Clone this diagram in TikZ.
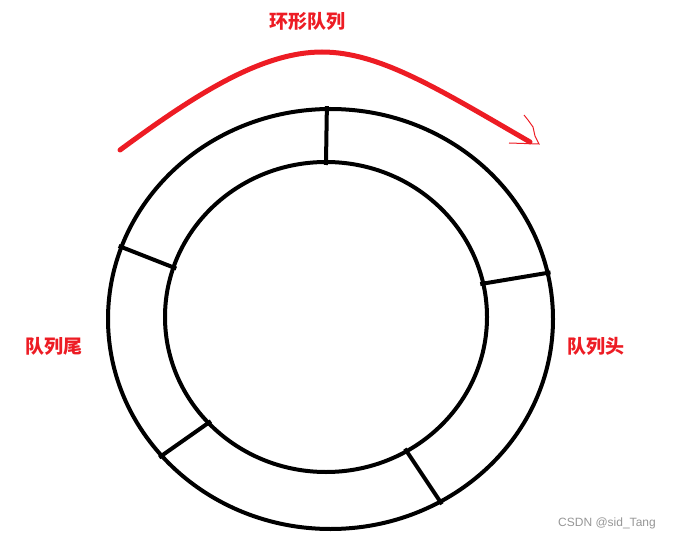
\documentclass[tikz,border=0pt]{standalone}
\usepackage{fontspec}
\newfontfamily\cjk{Noto Sans CJK SC}
\setsansfont{Liberation Sans}
\usetikzlibrary{
  calc,
  positioning,
  shapes.geometric,
}
\definecolor{paintred}{RGB}{237, 28, 36}
\definecolor{markgray}{RGB}{150, 150, 150}
\tikzstyle{ring} = [
  draw,
  ellipse,
  line width=4pt,
  inner sep=0pt,
  outer sep=0pt,
]
\tikzstyle{divider} = [
  line width=4pt,
  shorten >=-3pt,
  shorten <=-3pt,
]
\tikzstyle{redtext} = [
  text=paintred,
  font=\cjk\bfseries\fontsize{19}{19}\selectfont,
]
\tikzstyle{redarc} = [
  paintred,
  line width=5pt,
  line cap=round,
]

\begin{document}
\begin{tikzpicture}[x=1pt,y=-1pt]

        \useasboundingbox (0,0) rectangle (677,540);

        \node[ring,minimum width=445,minimum height=420] (outer) at (330.5,319) {};
        \node[ring,minimum width=322,minimum height=310] (inner) at (326,317) {};

        \node[redtext] (title) at (307,21) {环形队列};
        \node[redtext] (tail) at (54,346) {队列尾};
        \node[redtext] (head) at (596,346) {队列头};
        \node[text=markgray,font=\sffamily\fontsize{12}{12}\selectfont] (mark) at (607,523) {CSDN @sid\_Tang};

        \coordinate (arcstart) at (120,150);
        \coordinate (arctop) at (322,52);
        \coordinate (arcend) at (530,142);

        \draw[divider] (inner.90) -- (outer.91);
        \draw[divider] (inner.162) -- (outer.161);
        \draw[divider] (inner.222) -- (outer.219.5);
        \draw[divider] (inner.301.5) -- (outer.301);
        \draw[divider] (inner.12.7) -- (outer.12);

        \draw[redarc] (arcstart) .. controls (192,97) and (260,52) .. (arctop)
                      .. controls (380,52) and (440,90) .. (arcend);
        \draw[paintred,line width=1pt] ($(arcend)+(-6,-27)$) -- ($(arcend)+(-2,-22)$)
                      -- ($(arcend)+(3,-15)$) -- ($(arcend)+(5,-6)$)
                      -- ($(arcend)+(9,2)$) -- ($(arcend)+(-21,1)$);

        \end{tikzpicture}
\end{document}
